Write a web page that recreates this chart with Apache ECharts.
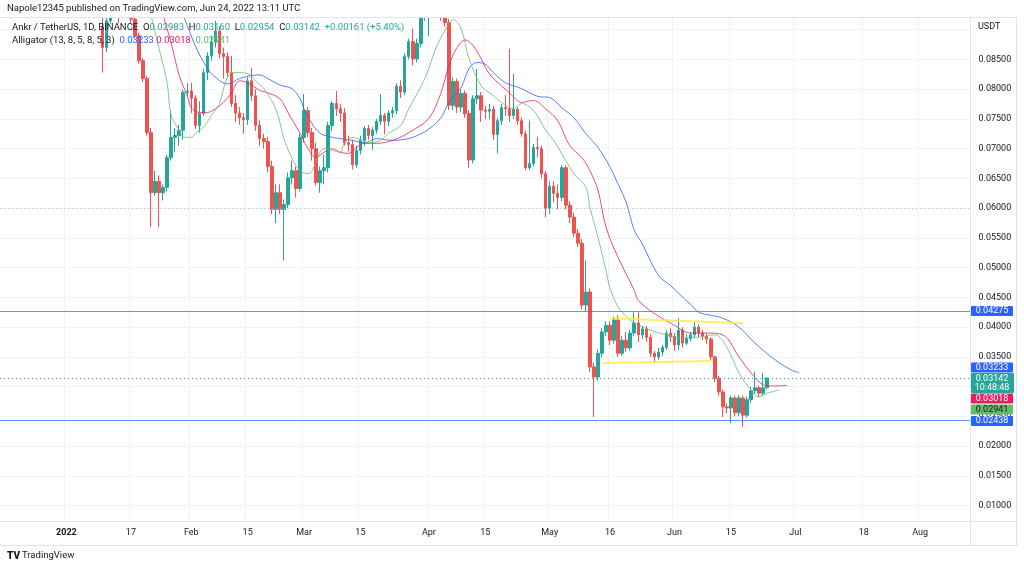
<!DOCTYPE html>
<html><head><meta charset="utf-8">
<script src="https://cdn.jsdelivr.net/npm/echarts/dist/echarts.min.js"></script>
<style>html,body{margin:0;padding:0;background:#fff}#c{width:1024px;height:567px}</style>
</head><body><div id="c"></div>
<script>
// ---- axis: daily categories ----
const axisStartUTC = Date.UTC(2021, 11, 16);   // first category (Dec 16, 2021)
const axisDayCount = 241;
const dayZeroOffset = 16;                      // index of 2022-01-01
const firstCandleDay = 9;                      // 2022-01-10 (days from Jan 1)

const timeLabels = {
  '2022-01-01': '2022', '2022-01-17': '17', '2022-02-01': 'Feb', '2022-02-15': '15',
  '2022-03-01': 'Mar', '2022-03-15': '15', '2022-04-01': 'Apr', '2022-04-15': '15',
  '2022-05-01': 'May', '2022-05-16': '16', '2022-06-01': 'Jun', '2022-06-15': '15',
  '2022-07-01': 'Jul', '2022-07-18': '18', '2022-08-01': 'Aug'
};

// ---- price data (ANKR/USDT, 1D), from Jan 10 to Jun 24, 2022 ----
const opens = [
0.0905,0.0870,0.0915,0.0940,0.0955,0.0945,0.0950,0.0940,0.0918,0.0890,
0.0848,0.0818,0.0727,0.0626,0.0645,0.0626,0.0635,0.0685,0.0719,0.0722,
0.0731,0.0795,0.0797,0.0785,0.0739,0.0759,0.0828,0.0856,0.0880,0.0898,
0.0860,0.0855,0.0828,0.0776,0.0760,0.0752,0.0749,0.0814,0.0789,0.0739,
0.0717,0.0712,0.0670,0.0598,0.0626,0.0598,0.0606,0.0651,0.0663,0.0633,
0.0719,0.0764,0.0727,0.0700,0.0643,0.0663,0.0668,0.0739,0.0776,0.0767,
0.0760,0.0710,0.0707,0.0673,0.0697,0.0714,0.0734,0.0722,0.0731,0.0746,
0.0756,0.0746,0.0760,0.0764,0.0805,0.0795,0.0855,0.0880,0.0851,0.0877,
0.0925,0.0940,0.0950,0.0940,0.0945,0.0928,0.0912,0.0773,0.0813,0.0770,
0.0793,0.0759,0.0681,0.0784,0.0789,0.0765,0.0763,0.0766,0.0724,0.0747,
0.0769,0.0767,0.0756,0.0766,0.0747,0.0725,0.0668,0.0675,0.0702,0.0700,
0.0658,0.0600,0.0637,0.0625,0.0618,0.0668,0.0605,0.0585,0.0558,0.0541,
0.0437,0.0459,0.0333,0.0316,0.0356,0.0392,0.0403,0.0378,0.0412,0.0356,
0.0378,0.0365,0.0390,0.0407,0.0387,0.0397,0.0383,0.0356,0.0350,0.0358,
0.0366,0.0390,0.0384,0.0370,0.0395,0.0373,0.0381,0.0387,0.0400,0.0390,
0.0385,0.0380,0.0350,0.0314,0.0291,0.0266,0.0264,0.0281,0.0256,0.0281,
0.0252,0.0278,0.0293,0.0298,0.0289,0.02983];
const highs = [
0.0925,0.0930,0.0950,0.0970,0.0965,0.0960,0.0958,0.0950,0.0925,0.0895,
0.0852,0.0822,0.0735,0.0663,0.0655,0.0640,0.0690,0.0764,0.0735,0.0740,
0.0800,0.0810,0.0811,0.0790,0.0780,0.0835,0.0862,0.0890,0.0915,0.0905,
0.0870,0.0862,0.0856,0.0790,0.0770,0.0760,0.0820,0.0836,0.0800,0.0748,
0.0725,0.0720,0.0680,0.0640,0.0640,0.0615,0.0660,0.0680,0.0670,0.0725,
0.0792,0.0770,0.0735,0.0710,0.0670,0.0690,0.0745,0.0780,0.0797,0.0775,
0.0768,0.0722,0.0715,0.0705,0.0722,0.0738,0.0740,0.0736,0.0750,0.0792,
0.0760,0.0765,0.0770,0.0810,0.0815,0.0860,0.0885,0.0902,0.0885,0.0945,
0.0960,0.0970,0.0975,0.0960,0.0955,0.0945,0.0918,0.0820,0.0818,0.0800,
0.0798,0.0765,0.0790,0.0834,0.0795,0.0772,0.0775,0.0772,0.0752,0.0775,
0.0790,0.0868,0.0826,0.0770,0.0752,0.0730,0.0747,0.0708,0.0720,0.0705,
0.0662,0.0645,0.0645,0.0640,0.0672,0.0672,0.0612,0.0592,0.0565,0.0548,
0.0512,0.0465,0.0340,0.0362,0.0398,0.0410,0.0410,0.0418,0.0420,0.0385,
0.0392,0.0395,0.0425,0.0425,0.0402,0.0402,0.0388,0.0360,0.0365,0.0370,
0.0395,0.0398,0.0390,0.0415,0.0400,0.0388,0.0392,0.0410,0.0405,0.0395,
0.0390,0.0383,0.0352,0.0318,0.0295,0.0272,0.0285,0.0285,0.0286,0.0285,
0.0283,0.0300,0.0325,0.0302,0.0323,0.03160];
const lows = [
0.0828,0.0862,0.0910,0.0930,0.0911,0.0935,0.0930,0.0912,0.0885,0.0843,
0.0812,0.0722,0.0568,0.0621,0.0568,0.0613,0.0628,0.0680,0.0695,0.0705,
0.0715,0.0788,0.0760,0.0733,0.0727,0.0755,0.0815,0.0848,0.0870,0.0852,
0.0818,0.0820,0.0770,0.0745,0.0740,0.0725,0.0740,0.0780,0.0730,0.0705,
0.0700,0.0660,0.0590,0.0575,0.0590,0.0512,0.0600,0.0640,0.0618,0.0628,
0.0710,0.0720,0.0680,0.0638,0.0626,0.0640,0.0660,0.0730,0.0755,0.0745,
0.0705,0.0695,0.0665,0.0668,0.0690,0.0705,0.0715,0.0698,0.0725,0.0740,
0.0724,0.0738,0.0752,0.0758,0.0785,0.0790,0.0850,0.0840,0.0845,0.0870,
0.0915,0.0889,0.0925,0.0925,0.0915,0.0905,0.0765,0.0765,0.0760,0.0762,
0.0752,0.0668,0.0675,0.0775,0.0745,0.0750,0.0750,0.0715,0.0692,0.0740,
0.0755,0.0745,0.0750,0.0740,0.0720,0.0664,0.0664,0.0670,0.0685,0.0650,
0.0585,0.0590,0.0610,0.0598,0.0612,0.0598,0.0575,0.0552,0.0535,0.0430,
0.0425,0.0325,0.0249,0.0310,0.0350,0.0385,0.0370,0.0372,0.0350,0.0352,
0.0358,0.0360,0.0385,0.0375,0.0380,0.0375,0.0350,0.0341,0.0345,0.0352,
0.0362,0.0375,0.0360,0.0362,0.0366,0.0370,0.0376,0.0383,0.0383,0.0378,
0.0372,0.0345,0.0308,0.0285,0.0249,0.0255,0.0239,0.0250,0.0250,0.0232,
0.0248,0.0272,0.0288,0.0282,0.0285,0.02954];
const closes = [
0.0870,0.0915,0.0940,0.0955,0.0945,0.0950,0.0940,0.0918,0.0890,0.0848,
0.0818,0.0727,0.0626,0.0645,0.0626,0.0635,0.0685,0.0719,0.0722,0.0731,
0.0795,0.0797,0.0785,0.0739,0.0759,0.0828,0.0856,0.0880,0.0898,0.0860,
0.0855,0.0828,0.0776,0.0760,0.0752,0.0749,0.0814,0.0789,0.0739,0.0717,
0.0712,0.0670,0.0598,0.0626,0.0598,0.0606,0.0651,0.0663,0.0633,0.0719,
0.0764,0.0727,0.0700,0.0643,0.0663,0.0668,0.0739,0.0776,0.0767,0.0760,
0.0710,0.0707,0.0673,0.0697,0.0714,0.0734,0.0722,0.0731,0.0746,0.0756,
0.0746,0.0760,0.0764,0.0805,0.0795,0.0855,0.0880,0.0851,0.0877,0.0925,
0.0940,0.0950,0.0940,0.0945,0.0928,0.0912,0.0773,0.0813,0.0770,0.0793,
0.0759,0.0681,0.0784,0.0789,0.0765,0.0763,0.0766,0.0724,0.0747,0.0769,
0.0767,0.0756,0.0766,0.0747,0.0725,0.0668,0.0675,0.0702,0.0700,0.0658,
0.0600,0.0637,0.0625,0.0618,0.0668,0.0605,0.0585,0.0558,0.0541,0.0437,
0.0459,0.0333,0.0316,0.0356,0.0392,0.0403,0.0378,0.0412,0.0356,0.0378,
0.0365,0.0390,0.0407,0.0387,0.0397,0.0383,0.0356,0.0350,0.0358,0.0366,
0.0390,0.0384,0.0370,0.0395,0.0373,0.0381,0.0387,0.0400,0.0390,0.0385,
0.0380,0.0350,0.0314,0.0291,0.0266,0.0264,0.0281,0.0256,0.0281,0.0252,
0.0278,0.0293,0.0298,0.0289,0.0298,0.03142];

// ---- Alligator lines (day = days from Jan 1, 2022) ----
const jawDays = [27,29,32,35,37,40,43,46,48,50,53,56,58,59,61,63,66,68,71,74,77,81,85,88,90,93,95,98,100,102,104,106,109,113,117,120,123,126,129,132,135,137,139,141,143,147,150,152,155,157,160,163,167,171,176,180,182];
const jawValues = [0.0950,0.0924,0.0873,0.0835,0.0820,0.0809,0.0818,0.0823,0.0824,0.0818,0.0807,0.0801,0.0784,0.0767,0.0742,0.0726,0.0719,0.0717,0.0714,0.0710,0.0717,0.0714,0.0717,0.0725,0.0733,0.0752,0.0778,0.0803,0.0835,0.0845,0.0842,0.0828,0.0811,0.0801,0.0788,0.0786,0.0769,0.0752,0.0725,0.0702,0.0669,0.0640,0.0610,0.0563,0.0540,0.0487,0.0470,0.0457,0.0438,0.0425,0.0420,0.0415,0.0400,0.0373,0.0345,0.0328,0.03233];
const teethDays = [24,26,28,30,31,33,35,37,39,41,43,45,48,50,53,55,58,60,62,64,66,68,70,72,74,77,81,85,90,93,95,97,99,101,103,105,108,110,113,116,119,122,125,128,130,132,134,137,141,142,146,151,155,159,163,167,170,173,175,179];
const teethValues = [0.0924,0.0878,0.0823,0.0789,0.0769,0.0761,0.0761,0.0767,0.0778,0.0794,0.0814,0.0811,0.0798,0.0794,0.0784,0.0761,0.0726,0.0700,0.0685,0.0694,0.0700,0.0694,0.0692,0.0702,0.0709,0.0709,0.0714,0.0727,0.0751,0.0794,0.0840,0.0870,0.0883,0.0873,0.0851,0.0826,0.0806,0.0794,0.0778,0.0781,0.0767,0.0747,0.0705,0.0685,0.0663,0.0630,0.0568,0.0517,0.0462,0.0445,0.0423,0.0403,0.0390,0.0390,0.0387,0.0350,0.0323,0.0303,0.0301,0.03018];
const lipsDays = [21,23,25,26,28,29,31,32,34,36,38,40,42,45,47,49,52,54,56,58,60,61,63,64,66,68,69,71,73,75,78,80,83,85,89,92,95,96,98,100,103,106,108,111,113,116,119,121,124,126,129,130,132,134,135,137,139,141,145,149,153,157,161,164,167,170,172,174,177];
const lipsValues = [0.0924,0.0868,0.0811,0.0756,0.0731,0.0720,0.0719,0.0726,0.0736,0.0756,0.0776,0.0821,0.0828,0.0826,0.0814,0.0801,0.0767,0.0717,0.0684,0.0663,0.0658,0.0663,0.0694,0.0700,0.0697,0.0694,0.0710,0.0719,0.0715,0.0710,0.0714,0.0726,0.0739,0.0767,0.0818,0.0873,0.0910,0.0917,0.0902,0.0851,0.0806,0.0789,0.0778,0.0767,0.0776,0.0764,0.0731,0.0714,0.0680,0.0658,0.0635,0.0601,0.0551,0.0495,0.0465,0.0434,0.0418,0.0407,0.0395,0.0387,0.0382,0.0383,0.0387,0.0366,0.0323,0.0294,0.0283,0.0289,0.02941];

// ---- drawings ----
const upperTrendDays = [135, 168];
const upperTrendValues = [0.04151, 0.04067];
const lowerTrendDays = [133, 160];
const lowerTrendValues = [0.03396, 0.03430];
const levelHigh = 0.04275;
const levelLow = 0.02438;
const lastPrice = 0.03142;
const dottedLevel = 0.0600;

// ---- price-scale tags ----
const priceTicks = {min: 0.005, max: 0.095, step: 0.005};
const tagTexts = ['0.04275', '0.03233', '0.03142', '0.03018', '0.02941', '0.02438'];

// =========================================================
const dates = [];
for (let i = 0; i < axisDayCount; i++) {
  dates.push(new Date(axisStartUTC + i * 864e5).toISOString().slice(0, 10));
}
const candleData = dates.map(() => '-');
for (let k = 0; k < opens.length; k++) {
  candleData[firstCandleDay + dayZeroOffset + k] = [opens[k], closes[k], lows[k], highs[k]];
}
const pairs = (days, vals) => days.map((d, i) => [d + dayZeroOffset, vals[i]]);
const isLabelDay = (idx, val) => timeLabels[val] !== undefined;

const FONT = 'Roboto, "Noto Sans", sans-serif';
const TXT = '#131722';
const BLUE = '#2962ff';

const chart = echarts.init(document.getElementById('c'), null, {renderer: 'canvas'});

const lineBase = (name, data, color, width, opacity) => ({
  name, type: 'line', data, xAxisIndex: 0, yAxisIndex: 0,
  symbol: 'none', smooth: 0.35, clip: true, z: 3,
  lineStyle: {color, width, opacity}, emphasis: {disabled: true}
});

// a horizontal level drawn by the library across the whole plot
const level = (value, color, type, width, opacity) => ({
  type: 'line', data: [], xAxisIndex: 0, yAxisIndex: 0, z: 4, silent: true,
  markLine: {silent: true, symbol: 'none', label: {show: false}, animation: false, precision: 6,
    lineStyle: {color, type, width, opacity},
    emphasis: {disabled: true},
    data: [{yAxis: value}]}
});

function tag(label, y, bg, fg) {
  return {
    type: 'group', z: 120,
    children: [
      {type: 'rect', z: 120, shape: {x: 971, y: y - 5, width: 42, height: 10, r: 1}, style: {fill: bg}},
      {type: 'text', z: 121, style: {x: 992, y: y, text: label, fill: fg, font: '9px ' + FONT, align: 'center', verticalAlign: 'middle'}}
    ]
  };
}

const option = {
  animation: false,
  backgroundColor: '#ffffff',
  grid: {left: -1.5, right: 53.5, top: -0.3, bottom: 31.7, containLabel: false},
  xAxis: [
    {type: 'category', data: dates, boundaryGap: true, z: 1,
     axisLine: {show: false}, axisTick: {show: false}, axisLabel: {show: false},
     splitLine: {show: true, interval: isLabelDay, lineStyle: {color: '#f0f3fa', width: 1}}},
    {type: 'category', data: dates, boundaryGap: true, position: 'bottom', z: 300,
     axisLine: {show: false}, axisTick: {show: false}, splitLine: {show: false},
     axisLabel: {show: true, interval: isLabelDay, margin: -7, color: TXT, fontSize: 9, fontFamily: FONT,
       formatter: v => timeLabels[v] === '2022' ? '{b|2022}' : (timeLabels[v] || ''),
       rich: {b: {fontWeight: 'bold', fontSize: 9, color: TXT, fontFamily: FONT}}}}
  ],
  yAxis: {
    type: 'value', position: 'right', min: priceTicks.min, max: priceTicks.max, interval: priceTicks.step,
    axisLine: {show: false}, axisTick: {show: false},
    splitLine: {show: true, lineStyle: {color: '#f0f3fa', width: 1}},
    axisLabel: {margin: 8, color: TXT, fontSize: 9, fontFamily: FONT,
      formatter: v => (v > 0.0899 || v < 0.0099) ? '' : v.toFixed(5)}
  },
  series: [
    {
      name: 'ANKRUSDT', type: 'candlestick', data: candleData, xAxisIndex: 0, yAxisIndex: 0,
      barWidth: 3, clip: true, z: 2,
      itemStyle: {color: '#26a69a', color0: '#ef5350', borderColor: '#26a69a', borderColor0: '#ef5350', borderWidth: 1},
      emphasis: {disabled: true}
    },
    level(dottedLevel, '#b2b5be', [1, 3], 1, 0.8),
    level(lastPrice, '#26a69a', [1, 3], 1, 1),
    level(levelHigh, BLUE, 'solid', 1.2, 0.7),
    level(levelLow, BLUE, 'solid', 1.2, 0.7),
    lineBase('Jaw', pairs(jawDays, jawValues), BLUE, 1, 0.8),
    lineBase('Teeth', pairs(teethDays, teethValues), '#e91e63', 1, 0.8),
    lineBase('Lips', pairs(lipsDays, lipsValues), '#66bb6a', 1, 0.8),
    Object.assign(lineBase('Upper trend', pairs(upperTrendDays, upperTrendValues), '#ffeb3b', 2, 0.8), {smooth: false}),
    Object.assign(lineBase('Lower trend', pairs(lowerTrendDays, lowerTrendValues), '#ffeb3b', 2, 0.8), {smooth: false})
  ],
  graphic: [
    {type: 'rect', z: 100, shape: {x: 0, y: 0, width: 1024, height: 17}, style: {fill: '#fff'}},
    {type: 'rect', z: 100, shape: {x: 0, y: 521, width: 1024, height: 46}, style: {fill: '#fff'}},
    {type: 'line', z: 101, shape: {x1: 0, y1: 17.5, x2: 1017, y2: 17.5}, style: {stroke: '#e0e3eb', lineWidth: 1}},
    {type: 'line', z: 101, shape: {x1: 0, y1: 521.5, x2: 1017, y2: 521.5}, style: {stroke: '#e0e3eb', lineWidth: 1}},
    {type: 'line', z: 101, shape: {x1: 0, y1: 545.5, x2: 1017, y2: 545.5}, style: {stroke: '#e0e3eb', lineWidth: 1}},
    {type: 'line', z: 101, shape: {x1: 970.5, y1: 17, x2: 970.5, y2: 546}, style: {stroke: '#e0e3eb', lineWidth: 1}},
    {type: 'line', z: 101, shape: {x1: 1016.5, y1: 17, x2: 1016.5, y2: 546}, style: {stroke: '#e0e3eb', lineWidth: 1}},
    {type: 'text', z: 110, style: {x: 7, y: 9, text: 'Napole12345 published on TradingView.com, Jun 24, 2022 13:11 UTC', fill: TXT, font: '9.5px ' + FONT, verticalAlign: 'middle'}},
    {type: 'text', z: 110, style: {x: 978, y: 27, text: 'USDT', fill: TXT, font: '9px ' + FONT, verticalAlign: 'middle'}},
    {type: 'text', z: 110, style: {x: 12, y: 28, verticalAlign: 'middle',
      text: '{a|Ankr / TetherUS, 1D, BINANCE  O}{g|0.02983}{a|  H}{g|0.03160}{a|  L}{g|0.02954}{a|  C}{g|0.03142}{g|  +0.00161 (+5.40%)}',
      rich: {a: {fill: TXT, font: '9.5px ' + FONT}, g: {fill: '#26a69a', font: '9.5px ' + FONT}}}},
    {type: 'text', z: 110, style: {x: 12, y: 41, verticalAlign: 'middle',
      text: '{a|Alligator (13, 8, 5, 8, 5, 3)  }{b|0.03233}{r| 0.03018}{l|  0.02941}',
      rich: {a: {fill: TXT, font: '9.5px ' + FONT}, b: {fill: BLUE, font: '9.5px ' + FONT},
             r: {fill: '#e91e63', font: '9.5px ' + FONT}, l: {fill: '#66bb6a', font: '9.5px ' + FONT}}}},
    tag(tagTexts[0], 311, BLUE, '#ffffff'),
    tag(tagTexts[1], 367.5, BLUE, '#ffffff'),
    {type: 'group', z: 120, children: [
      {type: 'rect', z: 120, shape: {x: 971, y: 373, width: 43, height: 20, r: 1}, style: {fill: '#26a69a'}},
      {type: 'text', z: 121, style: {x: 992, y: 378.5, text: tagTexts[2], fill: '#fff', font: '9px ' + FONT, align: 'center', verticalAlign: 'middle'}},
      {type: 'text', z: 121, style: {x: 992, y: 388, text: '10:48:48', fill: '#fff', font: '9px ' + FONT, align: 'center', verticalAlign: 'middle'}}
    ]},
    tag(tagTexts[3], 398.5, '#e91e63', '#ffffff'),
    tag(tagTexts[4], 409.5, '#66bb6a', TXT),
    tag(tagTexts[5], 421, BLUE, '#ffffff'),
    {type: 'text', z: 110, style: {x: 7, y: 556, text: 'TV', fill: TXT, font: '900 10px ' + FONT, verticalAlign: 'middle'}},
    {type: 'text', z: 110, style: {x: 22, y: 556, text: 'TradingView', fill: TXT, font: '9.5px ' + FONT, verticalAlign: 'middle'}}
  ]
};
chart.setOption(option);
</script>
</body></html>
